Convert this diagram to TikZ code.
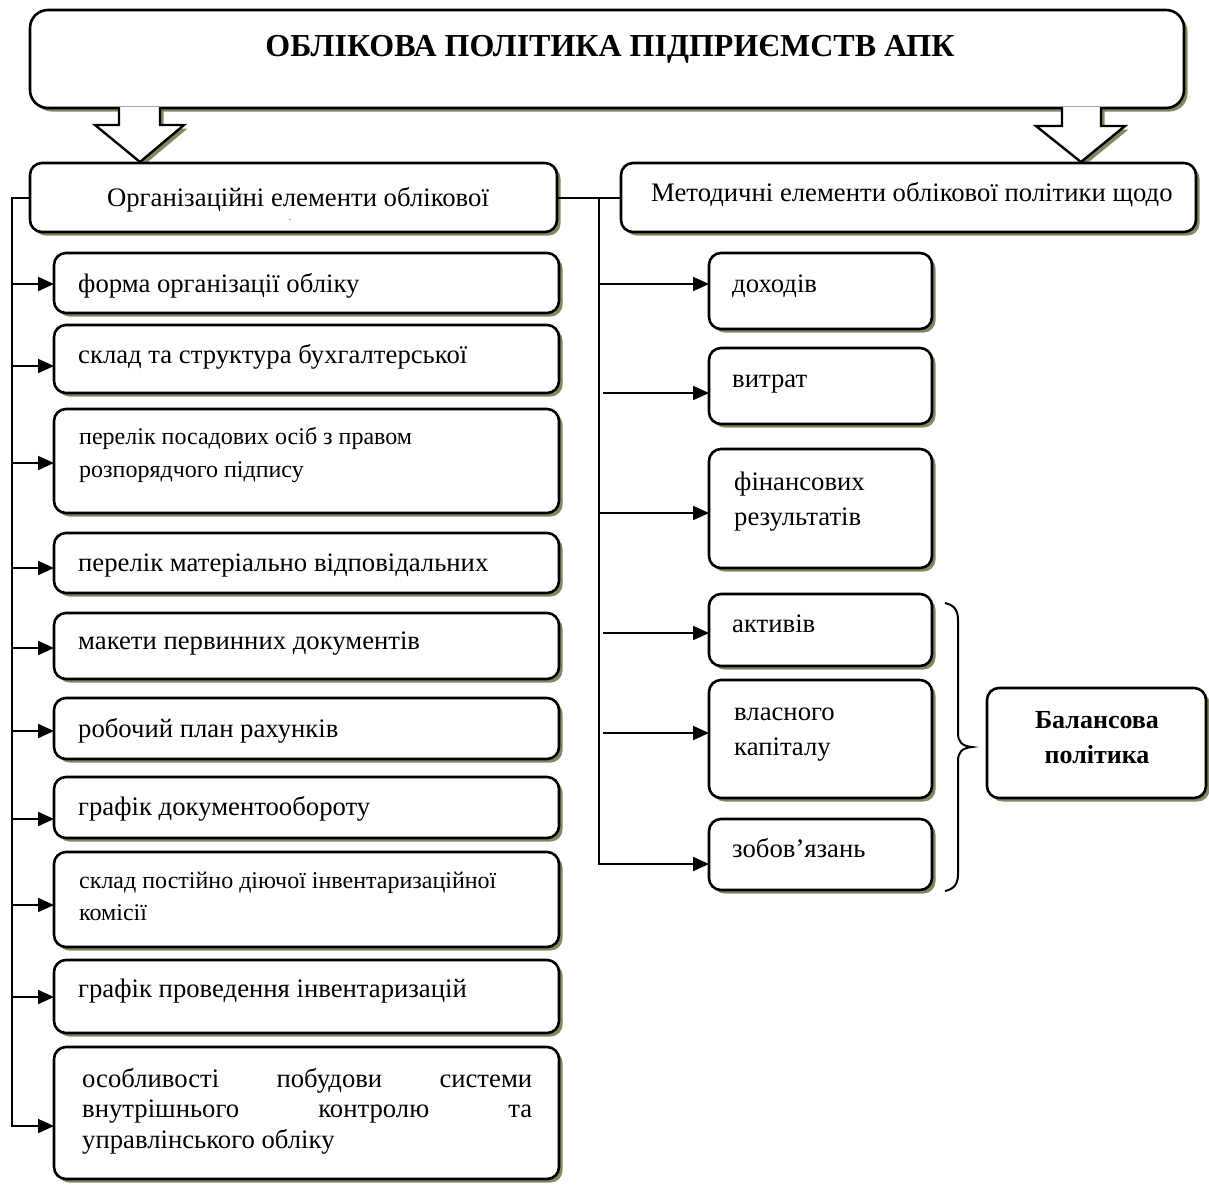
\documentclass[tikz,border=0pt]{standalone}
\usepackage{fontspec}
\setmainfont{Liberation Serif}
\usetikzlibrary{shadows,arrows.meta}
\definecolor{shade}{HTML}{5E6E3A}
\tikzset{
  x=1pt, y=-1pt,
  rbox/.style={draw=black, line width=2.6pt, rounded corners=12pt, fill=white,
    inner sep=0pt, outer sep=0pt,
    drop shadow={shadow xshift=3.5pt, shadow yshift=-3.5pt, fill=shade, opacity=0.8}},
  hollow/.style={draw=black, line width=2.4pt, fill=white, line join=miter,
    drop shadow={shadow xshift=3.5pt, shadow yshift=-3.5pt, fill=shade, opacity=0.8}},
  conn/.style={draw=black, line width=2pt, line join=miter},
  arr/.style={conn, -{Triangle[length=16pt, width=14pt]}},
  lbl/.style={inner sep=0pt, anchor=base west, font=\fontsize{26.7}{32}\selectfont},
  small/.style={inner sep=0pt, anchor=base west, font=\fontsize{24}{29}\selectfont},
  bold/.style={inner sep=0pt, anchor=base, font=\bfseries\fontsize{26}{31}\selectfont},
  brc/.style={draw=black, line width=2pt},
}
% box from its corners: name, x1, y1, x2, y2
\newcommand{\mkbox}[6][]{%
  \node[rbox,#1,minimum width={#5-#3},minimum height={#6-#4}] (#2)
    at ({(#3+#5)/2},{(#4+#6)/2}) {};}
\begin{document}
\begin{tikzpicture}
\fill[white] (0,0) rectangle (1209,1184);
\useasboundingbox (0,0) rectangle (1209,1184);

% title
\mkbox[rounded corners=18pt]{tit}{30}{10}{1184}{108}
\node[inner sep=0pt, anchor=base, font=\bfseries\fontsize{32}{38}\selectfont] (titt) at (610,56)
  {ОБЛІКОВА ПОЛІТИКА ПІДПРИЄМСТВ АПК};

% hollow arrows down from the title
\path[hollow] (119,107) -- (119,125) -- (95,125) -- (140,162) -- (184,125) -- (160,125) -- (160,107);
\path[hollow] (1062,107) -- (1062,126) -- (1036,126) -- (1081,162) -- (1125,126) -- (1101,126) -- (1101,107);

% headers
\mkbox{org}{30}{163}{557}{232}
\node[inner sep=0pt, anchor=base, font=\fontsize{26.7}{32}\selectfont] (orgt) at (298,206)
  {Організаційні елементи облікової};
\node[inner sep=0pt, anchor=base, font=\fontsize{9}{10}\selectfont] (orgd) at (290,220) {.};
\mkbox{met}{621}{163}{1196}{232}
\node[lbl] (mett) at (651,201) {Методичні елементи облікової політики щодо};

% organisational elements
\mkbox{o1}{54}{253}{559}{313}
\node[lbl] (o1t) at (78,292) {форма організації обліку};
\mkbox{o2}{54}{325}{559}{393}
\node[lbl] (o2t) at (78,363) {склад та структура бухгалтерської};
\mkbox{o3}{54}{409}{559}{513}
\node[small] (o3a) at (79,444) {перелік посадових осіб з правом};
\node[small] (o3b) at (79,477) {розпорядчого підпису};
\mkbox{o4}{54}{533}{559}{593}
\node[lbl] (o4t) at (78,571) {перелік матеріально відповідальних};
\mkbox{o5}{54}{613}{559}{679}
\node[lbl] (o5t) at (78,649) {макети первинних документів};
\mkbox{o6}{54}{698}{559}{759}
\node[lbl] (o6t) at (78,737) {робочий план рахунків};
\mkbox{o7}{54}{777}{559}{838}
\node[lbl] (o7t) at (78,815) {графік документообороту};
\mkbox{o8}{54}{852}{559}{947}
\node[small] (o8a) at (79,888) {склад постійно діючої інвентаризаційної};
\node[small] (o8b) at (79,920) {комісії};
\mkbox{o9}{54}{960}{559}{1033}
\node[lbl] (o9t) at (78,997) {графік проведення інвентаризацій};
\mkbox{o10}{54}{1047}{559}{1179}
\node[lbl] (o10a) at (82,1087) {\hbox to 450pt{особливості\hfill побудови\hfill системи}};
\node[lbl] (o10b) at (82,1117) {\hbox to 450pt{внутрішнього\hfill контролю\hfill та}};
\node[lbl] (o10c) at (82,1148) {управлінського обліку};

% methodical elements
\mkbox{doh}{709}{253}{932}{329}
\node[lbl] (doht) at (732,292) {доходів};
\mkbox{vyt}{709}{348}{932}{424}
\node[lbl] (vytt) at (732,387) {витрат};
\mkbox{fin}{709}{449}{932}{568}
\node[lbl] (fina) at (734,490) {фінансових};
\node[lbl] (finb) at (734,525) {результатів};
\mkbox{akt}{709}{594}{932}{666}
\node[lbl] (aktt) at (732,632) {активів};
\mkbox{vlk}{709}{680}{932}{798}
\node[lbl] (vlka) at (734,720) {власного};
\node[lbl] (vlkb) at (734,755) {капіталу};
\mkbox{zob}{709}{819}{932}{890}
\node[lbl] (zobt) at (732,857) {зобов’язань};

% balance policy
\mkbox{bal}{987}{688}{1206}{798}
\node[bold] (bala) at (1097,728) {Балансова};
\node[bold] (balb) at (1097,763) {політика};

% left trunk and branches
\coordinate (lZ) at (12,1126);
\draw[arr] (org.west) -| (lZ) -- (lZ -| o10.west);
\foreach \n/\yy in {o1/284, o2/366, o3/463, o4/568, o5/648, o6/731, o7/819, o8/905, o9/997} {
  \coordinate (l\n) at (12,\yy);
  \draw[arr] (l\n) -- (l\n -| \n.west);
}

% right trunk and branches
\draw[conn] (org.east) -- (met.west);
\coordinate (rZ) at (599,864);
\draw[arr] (org.east -| rZ) -- (rZ) -- (rZ -| zob.west);
\foreach \n/\xx/\yy in {doh/599/284, vyt/603/393, fin/599/513, akt/603/633, vlk/603/733} {
  \coordinate (r\n) at (\xx,\yy);
  \draw[arr] (r\n) -- (r\n -| \n.west);
}

% brace grouping the balance items
\draw[brc] (945,603) .. controls (954,605) and (958,610) .. (958,620) -- (958,733)
  .. controls (958,742) and (962,746) .. (972,747)
  .. controls (962,748) and (958,752) .. (958,761) -- (958,874)
  .. controls (958,884) and (954,889) .. (945,891);
\end{tikzpicture}
\end{document}
